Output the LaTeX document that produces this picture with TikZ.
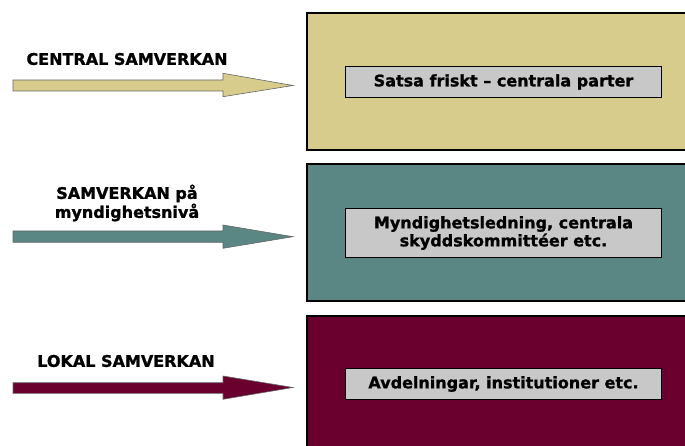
\documentclass[tikz,border=0pt]{standalone}
\usepackage{fontspec}
\setmainfont[BoldFeatures={FakeBold=1.2}]{DejaVu Sans}
\begin{document}
\begin{tikzpicture}[x=1pt,y=-1pt,
  lbl/.style={font=\bfseries\fontsize{16}{19}\selectfont, align=center, text=black},
  inner/.style={draw=black, line width=1pt, fill=boxgray, minimum width=316pt, anchor=north west, font=\bfseries\fontsize{16}{18}\selectfont, align=center, inner sep=0pt},
  band/.style={draw=black, line width=2.5pt},
  arr/.style={draw=gray!80!black, line width=0.6pt}]
\definecolor{khaki}{HTML}{D8CC8C}
\definecolor{teal}{HTML}{5A8783}
\definecolor{maroon}{HTML}{6A002E}
\definecolor{boxgray}{HTML}{C8C8C8}
\useasboundingbox (0,0) rectangle (685,446);
\clip (0,0) rectangle (685,446);
% bands
\draw[band, fill=khaki] (307,13) rectangle (700,150);
\draw[band, fill=teal] (307,164) rectangle (700,301);
\draw[band, fill=maroon] (307,316) rectangle (700,460);
% inner boxes
\node[inner, minimum height=31pt] (b1) at (345,66) {Satsa friskt – centrala parter};
\node[inner, minimum height=49pt] (b2) at (345,208) {Myndighetsledning, centrala\\skyddskommittéer etc.};
\node[inner, minimum height=31pt] (b3) at (345,368) {Avdelningar, institutioner etc.};
% labels
\node[lbl] (l1) at (127,59) {CENTRAL SAMVERKAN};
\node[lbl] (l2) at (127,203) {SAMVERKAN på\\myndighetsnivå};
\node[lbl] (l3) at (126,361) {LOKAL SAMVERKAN};
% arrows
\draw[arr, fill=khaki] (13,80) -- (223,80) -- (223,73.3) -- (293,85.5) -- (223,96.7) -- (223,91) -- (13,91) -- cycle;
\draw[arr, fill=teal] (13,231) -- (223,231) -- (223,225) -- (293,236.7) -- (223,248.3) -- (223,242.3) -- (13,242.3) -- cycle;
\draw[arr, fill=maroon] (13,382.7) -- (223,382.7) -- (223,376) -- (293,387.5) -- (223,399.3) -- (223,393.3) -- (13,393.3) -- cycle;
\end{tikzpicture}
\end{document}
